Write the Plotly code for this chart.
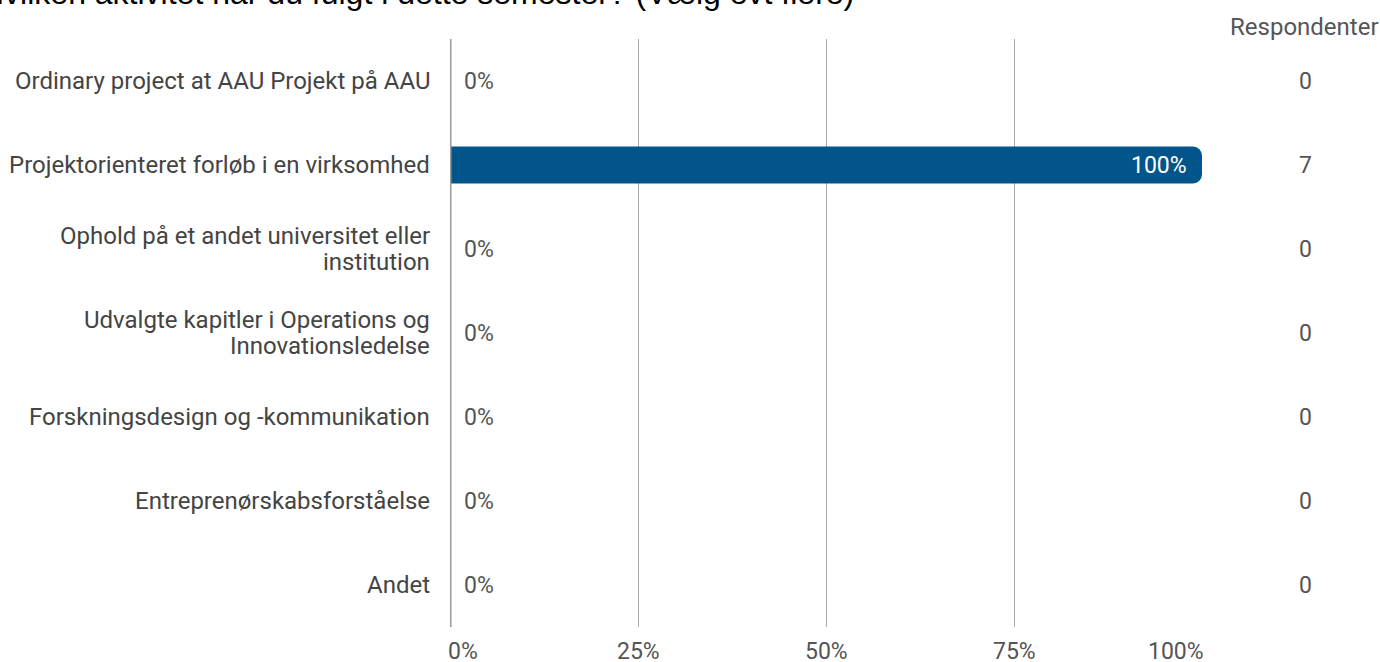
import plotly.graph_objects as go

categories = [
    "Ordinary project at AAU Projekt på AAU",
    "Projektorienteret forløb i en virksomhed",
    "Ophold på et andet universitet eller<br>institution",
    "Udvalgte kapitler i Operations og<br>Innovationsledelse",
    "Forskningsdesign og -kommunikation",
    "Entreprenørskabsforståelse",
    "Andet",
]
percent = [0, 100, 0, 0, 0, 0, 0]
respondents = [0, 7, 0, 0, 0, 0, 0]
x_ticks = [0, 25, 50, 75, 100]
x_tick_labels = ["0%", "25%", "50%", "75%", "100%"]
title_text = "Hvilken aktivitet har du fulgt i dette semester? (Vælg evt flere)"
count_header = "Respondenter"

W, H = 1380, 662
L, R, T, B = 450, 178, 39, 35
pw = W - L - R
ph = H - T - B

GREY = "#555555"
LABEL = "#444444"

fig = go.Figure()
fig.add_trace(go.Bar(
    y=categories, x=percent, orientation="h",
    marker=dict(color="#02558B", cornerradius=9, line=dict(width=0)),
    width=0.44, hoverinfo="skip",
))

ann = []
# category labels (one annotation per line for custom line spacing)
for c in categories:
    lines = c.split("<br>")
    n = len(lines)
    for i, line in enumerate(lines):
        off = (i - (n - 1) / 2) * 26
        ann.append(dict(x=0, y=c, xref="paper", yref="y", text=line, showarrow=False,
                        xanchor="right", yanchor="middle", xshift=-18, yshift=-off,
                        font=dict(family="Roboto", size=24, color=LABEL)))
# value labels
for c, v in zip(categories, percent):
    if v >= 20:
        ann.append(dict(x=v, y=c, xref="x", yref="y", text=f"{v}%", showarrow=False,
                        xanchor="right", xshift=-13, font=dict(family="Roboto", size=23, color="white")))
    else:
        ann.append(dict(x=v, y=c, xref="x", yref="y", text=f"{v}%", showarrow=False,
                        xanchor="left", xshift=12, font=dict(family="Roboto", size=23, color=GREY)))
# respondent counts
for c, n in zip(categories, respondents):
    ann.append(dict(x=(1305 - L) / pw, y=c, xref="paper", yref="y", text=str(n), showarrow=False,
                    xanchor="center", font=dict(family="Roboto", size=23, color=GREY)))
# x tick labels
for tv, tl in zip(x_ticks, x_tick_labels):
    anchor = "left" if tv == x_ticks[0] else ("right" if tv == x_ticks[-1] else "center")
    shift = -4 if tv == x_ticks[0] else (4 if tv == x_ticks[-1] else 0)
    ann.append(dict(x=tv, y=-(651 - (T + ph)) / ph, xref="x", yref="paper", text=tl, showarrow=False,
                    xanchor=anchor, yanchor="middle", xshift=shift,
                    font=dict(family="Roboto", size=23, color=GREY)))
ann.append(dict(x=(1304 - L) / pw, y=1 + (T - 27) / ph, xref="paper", yref="paper", text=count_header,
                showarrow=False, xanchor="center", yanchor="middle",
                font=dict(family="Roboto", size=24, color=GREY)))
ann.append(dict(x=-(L + 21) / pw, y=1 + (T - 13) / ph, xref="paper", yref="paper", text=title_text,
                showarrow=False, xanchor="left", yanchor="bottom",
                font=dict(family="Liberation Sans, Arial", size=32, color="#000000")))

fig.update_layout(
    width=W, height=H,
    margin=dict(l=L, r=R, t=T, b=B, pad=0),
    plot_bgcolor="white", paper_bgcolor="white",
    showlegend=False,
    annotations=ann,
    xaxis=dict(range=[0, 100], tickvals=x_ticks, showticklabels=False, showgrid=True,
               gridcolor="#AAAAAA", gridwidth=1, zeroline=False, showline=False, fixedrange=True),
    yaxis=dict(categoryorder="array", categoryarray=categories, autorange="reversed",
               showticklabels=False, showgrid=False, zeroline=False, showline=False, fixedrange=True),
    shapes=[dict(type="line", xref="x", yref="paper", x0=0, x1=0, y0=0, y1=1,
                 line=dict(color="#999999", width=3), layer="above")],
)

fig.write_html("out.html", config={"displayModeBar": False},
               post_script="document.body.style.margin='0px';")
